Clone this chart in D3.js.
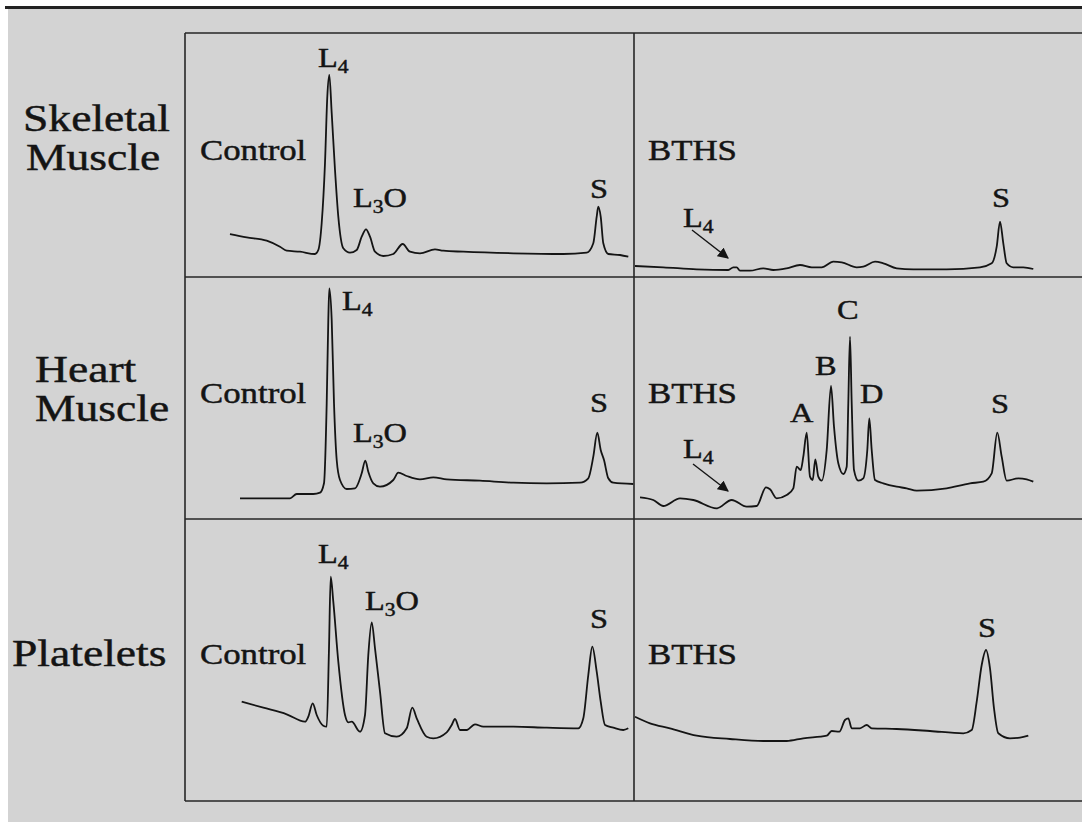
<!DOCTYPE html>
<html><head><meta charset="utf-8">
<script src="https://cdn.jsdelivr.net/npm/d3@7"></script>
<style>html,body{margin:0;padding:0;background:#fff;}svg{display:block;}</style>
</head><body>
<svg id="c" width="1082" height="822"></svg>
<script>
// ---------- DATA (retention time in min, absorbance in arbitrary units) ----------
const rowLabels = [["Skeletal", "Muscle"], ["Heart", "Muscle"], ["Platelets"]];
const groupLabels = ["Control", "BTHS"];

const skeletalControl = [[4.5,21.5],[6.17,19.85],[8.17,18.15],[9.5,15.15],[10.17,13.15],[11.5,12.65],[13.0,11.5],[13.33,13.5],[13.67,27],[14.0,57],[14.23,90.15],[14.43,101],[14.67,82],[15.0,53.5],[15.33,30.15],[15.83,14.35],[16.5,12.15],[17.17,13.5],[17.67,20.15],[18.1,23.85],[18.5,20.15],[19.0,12.65],[19.83,10.5],[20.83,11.5],[21.77,16.5],[22.5,12.65],[23.5,11.85],[25.0,13.85],[25.83,13.15],[27.83,12.65],[32.83,11.85],[37.83,11.5],[40.17,12.15],[40.83,16.85],[41.17,30.15],[41.33,35.15],[41.57,30.15],[41.83,16.85],[42.33,11.5],[43.5,11],[44.33,10.15]];

const skeletalBTHS = [[0.1,5.5],[2.93,4.85],[6.27,3.85],[9.43,3.5],[9.93,4.85],[10.27,4.85],[10.6,3.15],[11.6,3.15],[12.93,4.35],[13.93,3.5],[15.27,4.35],[16.6,6],[17.77,4.85],[18.77,4.85],[19.93,7.65],[20.77,7.35],[22.27,4.85],[22.93,5.15],[24.1,7.65],[24.93,6.85],[26.27,4.35],[27.93,3.85],[31.27,3.85],[34.6,4.85],[35.77,6.85],[36.27,15.15],[36.6,27.65],[36.93,16.85],[37.27,6.85],[37.93,4.85],[38.93,4.85],[39.93,4]];

const heartControl = [[5.5,10.35],[7.83,10.35],[10.5,10.35],[11.17,12.5],[12.83,12.5],[13.5,13.15],[13.9,17.85],[14.17,57.85],[14.33,99.5],[14.43,115.35],[14.67,99.5],[14.9,57.85],[15.17,29.5],[15.5,19.5],[16.17,15],[17.0,15.35],[17.67,22.85],[18.03,29.15],[18.33,23.65],[18.83,17.85],[19.5,16.15],[20.83,19.5],[21.33,23.15],[22.17,21.5],[23.5,19.85],[24.83,20.85],[26.17,19.85],[29.5,19.15],[32.83,18.15],[36.17,17.85],[39.5,18.15],[40.33,20.35],[40.83,31.15],[41.23,43.15],[41.57,34.5],[41.9,29.5],[42.33,20.35],[42.83,18.15],[44.83,17.5]];

const heartBTHS = [[0.6,10.85],[1.93,9.5],[2.93,6.5],[4.6,10.35],[5.93,9.5],[8.27,5.35],[9.77,9.5],[11.27,6.15],[12.27,6.5],[13.2,15.85],[13.6,14.85],[14.27,10.35],[15.27,12],[15.93,15.35],[16.27,26.15],[16.67,24.5],[16.93,31.15],[17.27,43.15],[17.6,21.15],[17.87,19.5],[18.13,29.85],[18.43,21.15],[18.77,19.15],[19.27,34.5],[19.7,66.5],[20.0,46.15],[20.43,27.85],[20.93,22.5],[21.27,26.15],[21.43,57.85],[21.6,91.15],[21.77,57.85],[22.0,24.5],[22.43,19.15],[22.93,20.35],[23.33,34.5],[23.53,50.35],[23.77,34.5],[24.1,19.5],[24.93,17.85],[26.27,16.15],[27.27,15.35],[28.27,14.15],[31.27,15.35],[33.6,17.85],[34.93,18.65],[35.77,22.85],[36.33,43.15],[36.77,31.15],[37.27,19.15],[38.43,20.35],[39.27,19.85],[39.93,18.65]];

const plateletsControl = [[5.67,49.65],[7.83,46.65],[10.17,43.35],[12.0,39.65],[12.33,42.15],[12.77,48.85],[13.17,43],[13.83,37.65],[14.17,37.15],[14.4,76.35],[14.57,112.15],[14.83,99.65],[15.33,69.65],[16.0,43],[16.33,39.35],[16.67,39.65],[17.5,34.65],[18.0,43],[18.33,73],[18.67,89.35],[19.0,76.35],[19.5,54.65],[20.0,33.85],[21.17,32.15],[22.17,36.35],[22.73,46.65],[23.17,41.35],[24.17,32.15],[24.83,31.35],[26.17,34.35],[26.67,38],[27.0,41],[27.5,35.5],[28.17,35.5],[29.0,38.35],[29.83,37.15],[32.83,37.15],[36.17,36.65],[39.33,36.35],[39.83,41.35],[40.33,63],[40.73,77.15],[41.17,64.65],[41.57,49.65],[42.0,38],[42.83,36.65],[43.83,35.5],[44.33,36.35]];

const plateletsBTHS = [[0.1,42.15],[1.6,38.85],[3.6,36.35],[6.27,32.65],[9.6,31],[12.93,30],[15.27,30],[16.93,31.35],[19.27,32.65],[19.77,35],[20.53,34.65],[21.1,40.5],[21.43,41.35],[21.77,36.35],[22.6,36.35],[23.27,38],[23.77,36.35],[26.27,36],[29.6,35],[32.93,33.85],[33.77,35.5],[34.27,49.65],[34.77,68],[35.2,75.5],[35.6,66.35],[36.0,46.35],[36.43,33.85],[37.6,31.35],[38.6,31.65],[39.43,32.65]];

// peak annotations: label text, subscript, trailing text, anchor time, anchor height
const skeletalControlPeaks = [{m:"L",s:"4",e:"",t:13.3,a:105},{m:"L",s:"3",e:"O",t:16.8,a:35},{m:"S",s:"",e:"",t:40.5,a:39.5}];
const skeletalBTHSPeaks = [{m:"L",s:"4",e:"",t:4.9,a:25},{m:"S",s:"",e:"",t:35.8,a:35}];
const heartControlPeaks = [{m:"L",s:"4",e:"",t:15.7,a:104.5},{m:"L",s:"3",e:"O",t:16.8,a:38.5},{m:"S",s:"",e:"",t:40.5,a:53.5}];
const heartBTHSPeaks = [{m:"L",s:"4",e:"",t:4.9,a:30.5},{m:"A",s:"",e:"",t:15.6,a:48.5},{m:"B",s:"",e:"",t:18.1,a:72},{m:"C",s:"",e:"",t:20.3,a:100},{m:"D",s:"",e:"",t:22.6,a:58},{m:"S",s:"",e:"",t:35.7,a:53}];
const plateletsControlPeaks = [{m:"L",s:"4",e:"",t:13.3,a:119},{m:"L",s:"3",e:"O",t:18.0,a:95.5},{m:"S",s:"",e:"",t:40.5,a:86.5}];
const plateletsBTHSPeaks = [{m:"S",s:"",e:"",t:34.4,a:82}];

// arrows pointing to the missing L4 peak [from time, from height, to time, to height]
const skeletalBTHSArrow = [5.8, 23.5, 9.4, 9.5];
const heartBTHSArrow = [5.9, 27.5, 9.4, 14];

// group label anchor heights per row
const groupLabelHeights = [58.5, 58, 68.5];

// ---------- LAYOUT ----------
const svg = d3.select("#c");
const colX = [185, 634];
const colW = 450;
const rowY = [33, 277, 519, 801];
const sx = 1.2; // horizontal glyph stretch of the scanned figure
const ink = "#141414";
const serif = "'Liberation Serif','Times New Roman',serif";

svg.append("rect").attr("width", 1082).attr("height", 822).attr("fill", "#ffffff");
svg.append("rect").attr("x", 8).attr("y", 9).attr("width", 1074).attr("height", 813).attr("fill", "#d3d3d3");
svg.append("line").attr("x1", 5).attr("x2", 1082).attr("y1", 7.5).attr("y2", 7.5).attr("stroke", "#222").attr("stroke-width", 3);

svg.append("defs").append("marker").attr("id", "ah").attr("viewBox", "0 0 10 10")
  .attr("refX", 9).attr("refY", 5).attr("markerWidth", 11).attr("markerHeight", 11)
  .attr("markerUnits", "userSpaceOnUse").attr("orient", "auto")
  .append("path").attr("d", "M0,0 L10,5 L0,10 Z").attr("fill", ink);

const panels = [
  [skeletalControl, skeletalControlPeaks, null],
  [skeletalBTHS, skeletalBTHSPeaks, skeletalBTHSArrow],
  [heartControl, heartControlPeaks, null],
  [heartBTHS, heartBTHSPeaks, heartBTHSArrow],
  [plateletsControl, plateletsControlPeaks, null],
  [plateletsBTHS, plateletsBTHSPeaks, null]
];

function stretchedText(x, y, size) {
  return svg.append("g").attr("transform", `translate(${x},${y}) scale(${sx},1)`)
    .append("text").attr("font-family", serif).attr("font-size", size).attr("fill", ink)
    .attr("stroke", ink).attr("stroke-width", 0.45);
}

function peakLabel(x, y, p) {
  const t = stretchedText(x, y, 27);
  t.append("tspan").text(p.m);
  if (p.s) t.append("tspan").attr("font-size", 18).attr("dy", 6).text(p.s);
  if (p.e) t.append("tspan").attr("dy", -6).text(p.e);
}

panels.forEach(([trace, peaks, arrow], i) => {
  const r = Math.floor(i / 2), c = i % 2;
  const x = d3.scaleLinear().domain([0, 45]).range([colX[c], colX[c] + colW]);
  const y = d3.scaleLinear().domain([0, (rowY[r + 1] - rowY[r]) / 2]).range([rowY[r + 1], rowY[r]]);
  const line = d3.line().x(d => x(d[0])).y(d => y(d[1])).curve(d3.curveMonotoneX);
  svg.append("path").datum(trace).attr("d", line).attr("fill", "none")
    .attr("stroke", ink).attr("stroke-width", 1.8).attr("stroke-linejoin", "round");
  peaks.forEach(p => peakLabel(x(p.t), y(p.a), p));
  stretchedText(x(c === 0 ? 1.5 : 1.4), y(groupLabelHeights[r]), 29).text(groupLabels[c]);
  if (arrow) {
    svg.append("line").attr("x1", x(arrow[0])).attr("y1", y(arrow[1]))
      .attr("x2", x(arrow[2])).attr("y2", y(arrow[3]))
      .attr("stroke", ink).attr("stroke-width", 1.4).attr("marker-end", "url(#ah)");
  }
});

// grid frame
const grid = svg.append("g").attr("stroke", "#262626").attr("stroke-width", 1.6);
grid.append("line").attr("x1", colX[0]).attr("x2", colX[0]).attr("y1", rowY[0]).attr("y2", rowY[3]);
grid.append("line").attr("x1", colX[1]).attr("x2", colX[1]).attr("y1", rowY[0]).attr("y2", rowY[3]);
rowY.forEach(yy => grid.append("line").attr("x1", colX[0]).attr("x2", 1082).attr("y1", yy).attr("y2", yy));

// row labels
const rowLabelPos = [[[23,131],[26,170]], [[35,382],[35,421]], [[12,666]]];
rowLabels.forEach((lines, r) => lines.forEach((s, k) => {
  const [px, py] = rowLabelPos[r][k];
  stretchedText(px, py, 38).text(s);
}));
</script>
</body></html>
